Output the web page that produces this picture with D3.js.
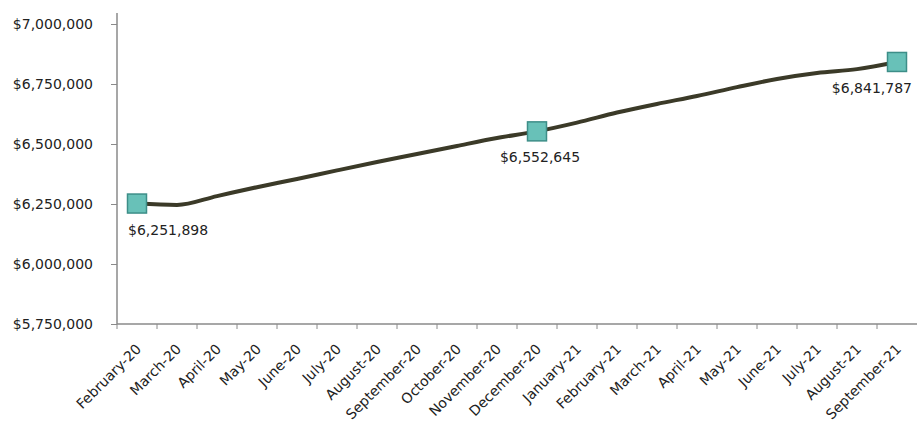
<!DOCTYPE html>
<html><head><meta charset="utf-8">
<script src="https://cdn.jsdelivr.net/npm/d3@7"></script>
<style>
body{margin:0;background:#fff;}
svg text{font-family:"DejaVu Sans",sans-serif;fill:#222;}
</style></head>
<body><svg id="chart" width="920" height="443"></svg>
<script>
const categories = ["February-20","March-20","April-20","May-20","June-20","July-20","August-20","September-20","October-20","November-20","December-20","January-21","February-21","March-21","April-21","May-21","June-21","July-21","August-21","September-21"];
const values = [6251898,6246000,6283000,6320000,6354000,6390000,6425000,6458000,6492000,6525000,6552645,6589000,6631000,6667000,6700000,6737000,6771000,6796000,6812000,6841787];
const markedIndex = [0,10,19];
const yTicks = [5750000,6000000,6250000,6500000,6750000,7000000];

const svg = d3.select("#chart");
const m = {left:117, right:3, top:13};
const W = 920;
const x = d3.scaleBand().domain(categories).range([m.left, W - m.right]).padding(0);
const y = d3.scaleLinear().domain([5750000,7000000]).range([324, 24]);
const fmt = v => "$" + d3.format(",")(v);
const cx = c => x(c) + x.bandwidth()/2;

// y axis
const ya = svg.append("g").attr("transform",`translate(${m.left},0)`)
  .call(d3.axisLeft(y).tickValues(yTicks).tickFormat(fmt).tickSize(6).tickPadding(18));
ya.select(".domain").attr("d", `M0,${m.top}V324`).attr("stroke","#8a8a8a").attr("stroke-width",1.5);
ya.selectAll(".tick line").attr("stroke","#8a8a8a");
ya.selectAll(".tick text").attr("font-size",14).attr("fill","#222").style("font-family",'"DejaVu Sans",sans-serif');

// x axis
const xa = svg.append("g").attr("transform",`translate(0,324)`);
xa.append("line").attr("x1",m.left).attr("x2",W-m.right).attr("y1",0).attr("y2",0).attr("stroke","#8a8a8a").attr("stroke-width",1.5);
xa.selectAll("line.tk").data(categories).enter().append("line").attr("class","tk")
  .attr("x1",d=>x(d)).attr("x2",d=>x(d)).attr("y1",0).attr("y2",5).attr("stroke","#8a8a8a");
xa.selectAll("text").data(categories).enter().append("text")
  .attr("transform",d=>`translate(${cx(d)+5},26) rotate(-45)`)
  .attr("text-anchor","end").attr("font-size",14).text(d=>d);

// line
const line = d3.line().x((d,i)=>cx(categories[i])).y(d=>y(d)).curve(d3.curveMonotoneX);
svg.append("path").datum(values).attr("d",line).attr("fill","none")
  .attr("stroke","#3b3a28").attr("stroke-width",4).attr("stroke-linejoin","round");

// markers
const pts = markedIndex.map(i=>({i, c:categories[i], v:values[i]}));
svg.selectAll("rect.mk").data(pts).enter().append("rect").attr("class","mk")
  .attr("x",d=>cx(d.c)-9.5).attr("y",d=>y(d.v)-9.5).attr("width",19).attr("height",19)
  .attr("fill","#68c1b8").attr("stroke","#3d8e88").attr("stroke-width",1.5);

// labels
const last = categories.length - 1;
svg.selectAll("text.lb").data(pts).enter().append("text").attr("class","lb")
  .attr("x",d=>d.i===0? cx(d.c)-9 : d.i===last? cx(d.c)+15 : cx(d.c)+3)
  .attr("y",d=>y(d.v)+31)
  .attr("text-anchor",d=>d.i===0?"start":d.i===last?"end":"middle")
  .attr("font-size",14).text(d=>fmt(d.v));
</script></body></html>
